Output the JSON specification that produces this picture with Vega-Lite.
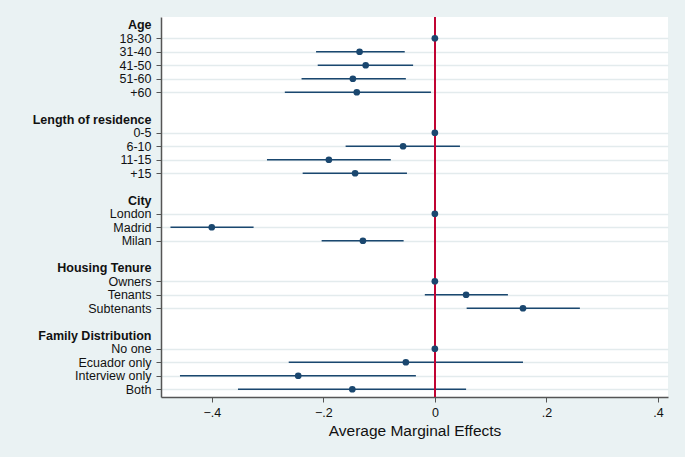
{
  "$schema": "https://vega.github.io/schema/vega-lite/v6.json",
  "autosize": "none",
  "width": 507,
  "height": 380,
  "padding": {"left": 161, "top": 17, "right": 17, "bottom": 60},
  "background": "#eaf2f3",
  "view": {"fill": "white", "stroke": null},
  "config": {"font": "Liberation Sans"},
  "data": {"values": [
    {"label": "18-30", "est": 0, "lo": 0, "hi": 0},
    {"label": "31-40", "est": -0.135, "lo": -0.213, "hi": -0.054},
    {"label": "41-50", "est": -0.124, "lo": -0.21, "hi": -0.039},
    {"label": "51-60", "est": -0.147, "lo": -0.239, "hi": -0.052},
    {"label": "+60", "est": -0.14, "lo": -0.269, "hi": -0.007},
    {"label": "0-5", "est": 0, "lo": 0, "hi": 0},
    {"label": "6-10", "est": -0.057, "lo": -0.16, "hi": 0.045},
    {"label": "11-15", "est": -0.19, "lo": -0.301, "hi": -0.079},
    {"label": "+15", "est": -0.143, "lo": -0.237, "hi": -0.05},
    {"label": "London", "est": 0, "lo": 0, "hi": 0},
    {"label": "Madrid", "est": -0.4, "lo": -0.474, "hi": -0.325},
    {"label": "Milan", "est": -0.129, "lo": -0.203, "hi": -0.056},
    {"label": "Owners", "est": 0, "lo": 0, "hi": 0},
    {"label": "Tenants", "est": 0.056, "lo": -0.018, "hi": 0.131},
    {"label": "Subtenants", "est": 0.158, "lo": 0.057, "hi": 0.26},
    {"label": "No one", "est": 0, "lo": 0, "hi": 0},
    {"label": "Ecuador only", "est": -0.052, "lo": -0.262, "hi": 0.158},
    {"label": "Interview only", "est": -0.245, "lo": -0.457, "hi": -0.034},
    {"label": "Both", "est": -0.148, "lo": -0.353, "hi": 0.056}
  ]},
  "layer": [
    {
      "mark": {"type": "rule", "color": "#1a476f", "strokeWidth": 1.5},
      "encoding": {
        "y": {
          "field": "label", "type": "nominal",
          "scale": {
            "type": "point", "padding": 0.575,
            "domain": ["Age", "18-30", "31-40", "41-50", "51-60", "+60", " ",
              "Length of residence", "0-5", "6-10", "11-15", "+15", "  ",
              "City", "London", "Madrid", "Milan", "   ",
              "Housing Tenure", "Owners", "Tenants", "Subtenants", "    ",
              "Family Distribution", "No one", "Ecuador only", "Interview only", "Both"]
          },
          "axis": {
            "title": null,
            "grid": true,
            "gridColor": "#e3ebed",
            "gridWidth": 1.5,
            "gridOpacity": {"condition": {"test": "indexof(['Age','Length of residence','City','Housing Tenure','Family Distribution'], datum.value) >= 0 || trim(datum.value) == ''", "value": 0}, "value": 1},
            "tickOpacity": {"condition": {"test": "indexof(['Age','Length of residence','City','Housing Tenure','Family Distribution'], datum.value) >= 0 || trim(datum.value) == ''", "value": 0}, "value": 1},
            "labelFontWeight": {"condition": {"test": "indexof(['Age','Length of residence','City','Housing Tenure','Family Distribution'], datum.value) >= 0", "value": "bold"}, "value": "normal"},
            "labelFontSize": 12.5,
            "labelColor": "#111111",
            "labelPadding": 5,
            "tickSize": 5,
            "tickColor": "#555555",
            "domainColor": "#555555",
            "domainWidth": 1.5,
            "labelLimit": 300
          }
        },
        "x": {
          "field": "lo", "type": "quantitative",
          "scale": {"domain": [-0.491, 0.418], "nice": false, "zero": false},
          "axis": {
            "title": "Average Marginal Effects",
            "titleFontSize": 15.5,
            "titleFontWeight": "normal",
            "titleColor": "#111111",
            "titlePadding": 5,
            "values": [-0.4, -0.2, 0, 0.2, 0.4],
            "labelExpr": "datum.value == 0 ? '0' : replace(format(datum.value, '.1f'), '0.', '.')",
            "labelFontSize": 12.5,
            "labelColor": "#111111",
            "labelPadding": 4,
            "tickSize": 5,
            "tickColor": "#555555",
            "domainColor": "#555555",
            "domainWidth": 1.5,
            "grid": false
          }
        },
        "x2": {"field": "hi"}
      }
    },
    {
      "mark": {"type": "rule", "color": "#c10534", "strokeWidth": 1.5},
      "encoding": {"x": {"datum": 0}}
    },
    {
      "mark": {"type": "point", "filled": true, "color": "#1a476f", "opacity": 1, "size": 45},
      "encoding": {
        "y": {"field": "label", "type": "nominal"},
        "x": {"field": "est", "type": "quantitative"}
      }
    }
  ]
}
